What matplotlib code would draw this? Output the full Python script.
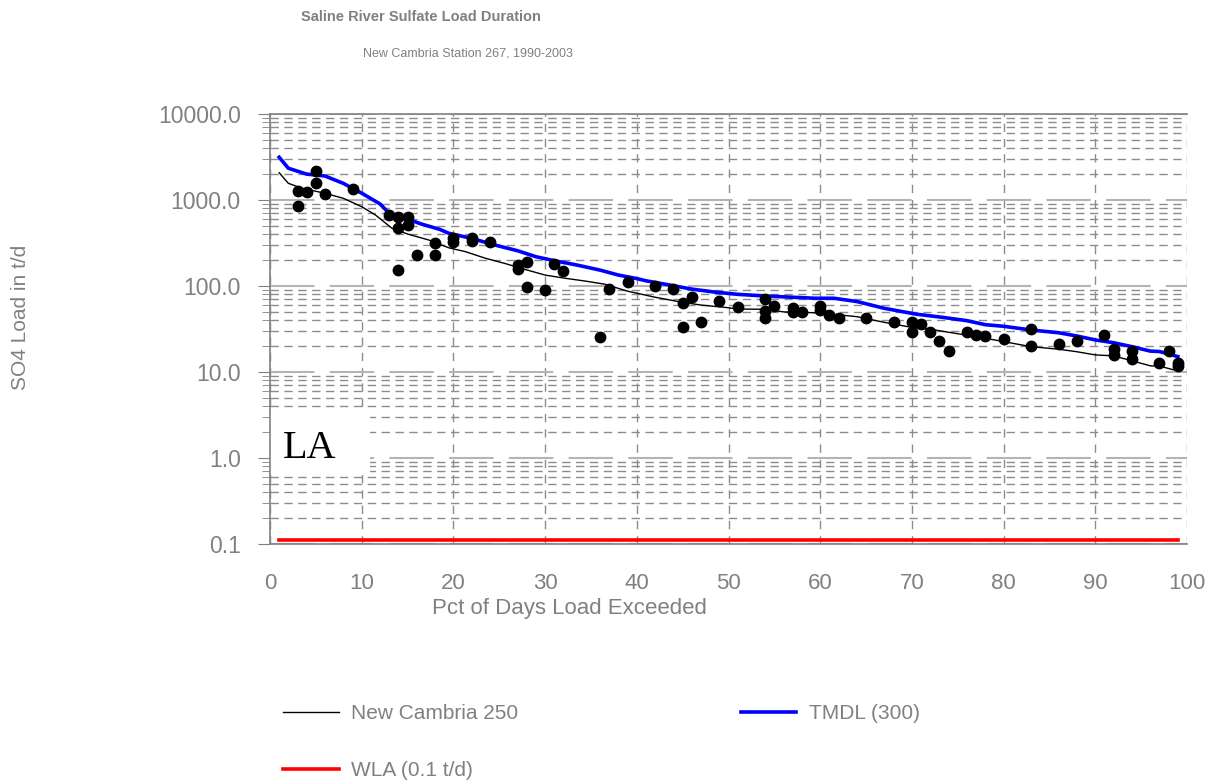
import numpy as np
import matplotlib
matplotlib.use('Agg')
import matplotlib.pyplot as plt
from matplotlib.patches import Rectangle
from matplotlib.ticker import LogLocator, FixedLocator, FormatStrFormatter, NullFormatter

plt.rcParams['font.family'] = ['Liberation Sans', 'DejaVu Sans']
plt.rcParams['lines.scale_dashes'] = False

GREY = '#808080'

# observed loads (pct of days exceeded, t/d)
obs_x = [3, 3, 4, 5, 5, 6, 9, 13, 14, 14, 14, 15, 15, 16, 18, 18, 20, 20, 22, 22,
         24, 27, 27, 28, 28, 30, 31, 32, 36, 37, 39, 42, 44, 45, 45, 46, 47, 49, 51,
         54, 54, 54, 55, 57, 57, 58, 60, 60, 61, 62, 65, 68, 70, 70, 71, 72, 73, 74,
         76, 77, 78, 80, 83, 83, 86, 88, 91, 92, 92, 94, 94, 97, 98, 99, 99]
obs_y = [1280, 860, 1230, 2190, 1560, 1165, 1350, 665, 630, 470, 154, 630, 512, 229, 316, 229, 358, 328, 365, 330,
         328, 175, 156, 189, 97, 90, 180, 151, 25.7, 92, 111, 100, 92, 64, 33.6, 74, 38.4, 67, 57.5,
         70, 51, 43, 58.5, 56, 50, 49.5, 58.5, 52.6, 46, 43, 43, 38.4, 38.4, 29.4, 36, 29.4, 23.1, 17.5,
         29.4, 26.9, 26.2, 24.2, 31.4, 20, 21.2, 23.1, 26.9, 18.4, 15.8, 17.5, 14, 12.8, 17.7, 12.6, 11.8]

# New Cambria 250 duration curve
nc_x = [1, 2, 3.5, 6, 8, 10, 11.5, 13.3, 15, 17.3, 19.5, 21.3, 23.5, 25.6, 27.8, 30, 32.2, 34.4,
        36.5, 39, 42, 44.5, 47, 49.6, 51, 54, 56, 59, 60.5, 64, 67, 69.6, 72.5, 74.7, 77, 79,
        83, 86, 88, 90, 92, 94, 96, 97, 99]
nc_y = [2076, 1563, 1368, 1197, 1046, 836, 669, 469, 402, 343, 278, 251, 210, 183, 156, 134, 123, 114,
        105, 87, 74, 66, 60, 56.5, 54, 53.6, 50, 49, 48, 44, 37.8, 33.6, 30.8, 28.2, 25.7, 23.6,
        19.7, 18.4, 17.2, 15.8, 15.4, 13.5, 11.8, 11.7, 10.3]

# TMDL (300) curve
tmdl_x = [1, 2, 4, 6, 8, 10, 12, 13, 15, 16.5, 18.5, 19.5, 22, 24.5, 27, 29, 31, 33.5, 36, 38,
          40, 41, 43.5, 46, 48.5, 51, 54, 57, 59.5, 61.5, 64, 67, 70.5, 73.5, 76, 78, 80, 83,
          86, 88, 90, 92, 94, 96, 97, 99]
tmdl_y = [3140, 2340, 2000, 1900, 1560, 1200, 900, 700, 600, 526, 456, 410, 358, 300, 257, 219, 197,
          175, 153, 134, 122, 115, 103, 92, 85, 80, 76.5, 74, 72, 72, 66, 55, 47, 43, 39.5, 35.5,
          34, 30.8, 28.6, 26.2, 23.6, 21.9, 19.7, 17.5, 17.3, 15.1]

# WLA
wla_x = [1, 99]
wla_y = [0.11, 0.11]

xticks = list(range(0, 101, 10))
yticks = [0.1, 1, 10, 100, 1000, 10000]

fig = plt.figure(figsize=(12.13, 7.84), dpi=100)
ax = fig.add_axes([270/1213, 1-544/784, 917/1213, 430/784])

ax.set_yscale('log')
ax.set_xlim(0, 100)
ax.set_ylim(0.1, 10000)
ax.xaxis.set_major_locator(FixedLocator(xticks))
ax.yaxis.set_major_locator(FixedLocator(yticks))
ax.yaxis.set_minor_locator(LogLocator(base=10, subs=np.arange(2, 10)))
ax.yaxis.set_major_formatter(FormatStrFormatter('%.1f'))
ax.yaxis.set_minor_formatter(NullFormatter())

ax.set_axisbelow(True)
ax.yaxis.grid(True, which='major', color='#b4b4b4', lw=1.5, linestyle=(0, (32, 11)))
ax.yaxis.grid(True, which='minor', color='#8c8c8c', lw=1.0, linestyle=(0, (6, 4)))
ax.xaxis.grid(True, which='major', color='#8c8c8c', lw=1.0, linestyle=(0, (6, 5)))

for s in ['left', 'bottom', 'top']:
    ax.spines[s].set_color(GREY)
    ax.spines[s].set_linewidth(1.2)
ax.spines['right'].set_visible(False)

ax.tick_params(axis='y', which='major', length=9, color=GREY, labelcolor=GREY, labelsize=16.5, pad=12)
ax.tick_params(axis='y', which='minor', length=6, color=GREY)
ax.tick_params(axis='x', which='both', length=0, labelcolor=GREY, labelsize=16, pad=21)

# LA label box
ax.add_patch(Rectangle((0, 0.165), 0.109, 0.14, transform=ax.transAxes,
                       facecolor='white', edgecolor='none', zorder=1))
ax.text(0.014, 0.2, 'LA', transform=ax.transAxes, fontsize=29,
        family=['Liberation Serif', 'DejaVu Serif'], color='black', va='baseline', zorder=3)

l1, = ax.plot(nc_x, nc_y, color='black', lw=1.0, zorder=3, label='New Cambria 250')
l3, = ax.plot(tmdl_x, tmdl_y, color='#0000ff', lw=2.6, zorder=4, label='TMDL (300)')
l2, = ax.plot(wla_x, wla_y, color='#ff0000', lw=2.6, zorder=4, label='WLA (0.1 t/d)')
ax.plot(obs_x, obs_y, 'o', color='black', ms=7.5, zorder=5)

ax.set_xlabel('Pct of Days Load Exceeded', fontsize=16, color=GREY)
ax.xaxis.set_label_coords(0.326, -0.149)
ax.xaxis.label.set_va('center')
ax.set_ylabel('SO4 Load in t/d', fontsize=15, color=GREY)
ax.yaxis.set_label_coords(-0.272, 0.526)
ax.yaxis.label.set_va('center')

fig.text(421/1213, 1-17/784, 'Saline River Sulfate Load Duration', ha='center', va='center',
         fontsize=10.5, fontweight='bold', color=GREY)
fig.text(468/1213, 1-54/784, 'New Cambria Station 267, 1990-2003', ha='center', va='center',
         fontsize=9, color=GREY)

fig.legend([l1, l2, l3], ['New Cambria 250', 'WLA (0.1 t/d)', 'TMDL (300)'],
           ncol=2, frameon=False, loc='upper left', bbox_to_anchor=(275/1213, 1-696/784),
           fontsize=15, labelcolor=GREY, handlelength=2.65, handletextpad=0.6,
           columnspacing=10.7, labelspacing=1.8, borderaxespad=0)

fig.savefig('out.png', dpi=100)
